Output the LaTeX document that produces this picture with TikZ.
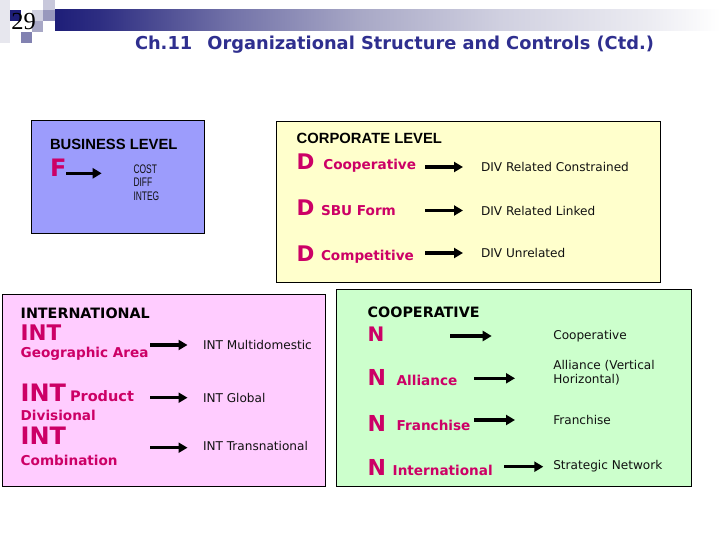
\documentclass[tikz,border=0pt]{standalone}
\usepackage{fontspec}
\setmainfont{DejaVu Sans}
\newfontfamily\myarial{Liberation Sans}
\newfontfamily\myarialnarrow[FakeStretch=0.68]{Liberation Sans}
\newfontfamily\mytimes{Liberation Serif}
\usetikzlibrary{arrows.meta}
\definecolor{mag}{HTML}{CC0066}
\definecolor{navyt}{HTML}{2F2F8F}
\definecolor{bizfill}{HTML}{9C9CFC}
\definecolor{corpfill}{HTML}{FFFFCC}
\definecolor{intfill}{HTML}{FFCCFF}
\definecolor{coopfill}{HTML}{CCFFCC}
\definecolor{txt}{HTML}{111111}
\definecolor{cA}{RGB}{30,30,120}
\definecolor{cB}{RGB}{46,46,130}
\definecolor{cC}{RGB}{114,114,168}
\definecolor{cD}{RGB}{168,168,198}
\definecolor{cE}{RGB}{208,208,224}
\definecolor{cF}{RGB}{236,236,242}
\newcommand\myhead{\myarial\bfseries\fontsize{14.8}{16}\selectfont}
\newcommand\myheadv{\bfseries\fontsize{14.3}{16}\selectfont}
\newcommand\mybig[1]{\bfseries\fontsize{#1}{#1}\selectfont}
\newcommand\myword{\bfseries\fontsize{13.6}{15}\selectfont}
\newcommand\myplain{\fontsize{12.1}{14.5}\selectfont}
\newcommand\mynarrow{\myarialnarrow\fontsize{12.4}{14}\selectfont}
\tikzset{
  boxshape/.style={draw=black, line width=0.9pt},
  lbl/.style={anchor=base west, inner sep=0pt, outer sep=0pt},
  headlbl/.style={lbl, text=black, font=\myhead},
  headvlbl/.style={lbl, text=black, font=\myheadv},
  wordlbl/.style={lbl, text=mag, font=\myword},
  plainlbl/.style={lbl, text=txt, font=\myplain},
  arr/.style={line width=3.2pt, -{Triangle[length=9pt,width=10pt]}},
}
\begin{document}
\begin{tikzpicture}[x=1pt,y=-1pt]
\useasboundingbox (0,0) rectangle (720,540);
\fill[white] (0,0) rectangle (720,540);
% header bar
\shade[left color=cA,right color=cB] (55,10) rectangle (100.5,31);
\shade[left color=cB,right color=cC] (100,10) rectangle (230.5,31);
\shade[left color=cC,right color=cD] (230,10) rectangle (360.5,31);
\shade[left color=cD,right color=cE] (360,10) rectangle (500.5,31);
\shade[left color=cE,right color=cF] (500,10) rectangle (650.5,31);
\shade[left color=cF,right color=white] (650,10) rectangle (720,31);
% corner squares
\fill[cF!80!cE] (0,0) rectangle (10,43);
\fill[cA] (10,10) rectangle (21,21);
\fill[cE] (32,10) rectangle (43,21);
\fill[cD!70!cC] (43,10) rectangle (55,21);
\fill[cE!80!cD] (43,0) rectangle (55,10);
\fill[cD] (32,21) rectangle (43,32);
\fill[cC!70!cD] (21,32) rectangle (32,43);
\node[lbl, font=\mytimes\fontsize{24.5}{25}\selectfont, text=black] (num) at (11.5,29.3) {29};
\node[lbl, font=\bfseries\fontsize{17.8}{19}\selectfont, text=navyt] (title) at (135,49.8) {Ch.11\hspace{0.85em}Organizational Structure and Controls (Ctd.)};

% business level
\draw[boxshape, fill=bizfill] (31,120) rectangle (204,233);
\node[headlbl] (bl) at (50,149.3) {BUSINESS LEVEL};
\node[lbl, text=mag, font=\mybig{24}] (f) at (50,176.7) {F};
\coordinate (fa1) at (66,173.3);
\coordinate (fa2) at (101.7,173.3);
\draw[arr] (fa1) -- (fa2);
\node[lbl, text=txt, font=\mynarrow] (cost) at (133.5,173.2) {COST};
\node[lbl, text=txt, font=\mynarrow] (diff) at (133.5,187) {DIFF};
\node[lbl, text=txt, font=\mynarrow] (integ) at (133.5,200.7) {INTEG};

% corporate level
\draw[boxshape, fill=corpfill] (276,121) rectangle (660,282);
\node[headlbl] (cl) at (296.7,143.3) {CORPORATE LEVEL};
\node[lbl, text=mag, font=\mybig{21.5}] (d1) at (296.7,170) {D};
\node[wordlbl] (coopw) at (323.3,170) {Cooperative};
\node[lbl, text=mag, font=\mybig{21.5}] (d2) at (296.7,215.7) {D};
\node[wordlbl] (sbu) at (321,215.7) {SBU Form};
\node[lbl, text=mag, font=\mybig{21.5}] (d3) at (296.7,261.7) {D};
\node[wordlbl] (compw) at (321,260.5) {Competitive};
\coordinate (ca1) at (425,167); \coordinate (ca2) at (463,167);
\coordinate (cb1) at (425,210.5); \coordinate (cb2) at (463,210.5);
\coordinate (cc1) at (425,253); \coordinate (cc2) at (463,253);
\draw[arr] (ca1) -- (ca2);
\draw[arr] (cb1) -- (cb2);
\draw[arr] (cc1) -- (cc2);
\node[plainlbl] (divrc) at (481,171.5) {DIV Related Constrained};
\node[plainlbl] (divrl) at (481,215.5) {DIV Related Linked};
\node[plainlbl] (divu) at (481,258) {DIV Unrelated};

% international
\draw[boxshape, fill=intfill] (2,294.3) rectangle (325,486);
\node[headvlbl] (il) at (20.7,318.3) {INTERNATIONAL};
\node[lbl, text=mag, font=\mybig{21.5}] (int1) at (20.7,340) {INT};
\node[wordlbl] (geo) at (20.7,357.7) {Geographic Area};
\node[lbl, text=mag, font=\mybig{24}] (int2) at (20.7,401.7) {INT};
\node[lbl, text=mag, font=\bfseries\fontsize{14.5}{16}\selectfont] (prod) at (70,401) {Product};
\node[wordlbl] (divis) at (20.7,420) {Divisional};
\node[lbl, text=mag, font=\mybig{24}] (int3) at (20.7,444.3) {INT};
\node[wordlbl] (comb) at (20.7,465) {Combination};
\coordinate (ia1) at (150,345); \coordinate (ia2) at (187.5,345);
\coordinate (ib1) at (150,397.7); \coordinate (ib2) at (187.5,397.7);
\coordinate (ic1) at (150,447.7); \coordinate (ic2) at (187.5,447.7);
\draw[arr] (ia1) -- (ia2);
\draw[arr] (ib1) -- (ib2);
\draw[arr] (ic1) -- (ic2);
\node[plainlbl] (multi) at (203,349.5) {INT Multidomestic};
\node[plainlbl] (glob) at (203,402) {INT Global};
\node[plainlbl] (trans) at (203,450.5) {INT Transnational};

% cooperative
\draw[boxshape, fill=coopfill] (336,289) rectangle (691.7,486.7);
\node[headvlbl] (col) at (367.7,317.3) {COOPERATIVE};
\node[lbl, text=mag, font=\mybig{20}] (n1) at (367.7,341) {N};
\node[lbl, text=mag, font=\mybig{22}] (n2) at (367.7,385) {N};
\node[wordlbl] (all) at (396.7,385) {Alliance};
\node[lbl, text=mag, font=\mybig{22}] (n3) at (367.7,431) {N};
\node[wordlbl] (fran) at (396.7,430) {Franchise};
\node[lbl, text=mag, font=\mybig{22}] (n4) at (367.7,475) {N};
\node[wordlbl] (intl) at (392.7,475.7) {International};
\coordinate (na1) at (450,336); \coordinate (na2) at (491.7,336);
\coordinate (nb1) at (474,378.3); \coordinate (nb2) at (515,378.3);
\coordinate (nc1) at (474,420); \coordinate (nc2) at (515,420);
\coordinate (nd1) at (504,466.7); \coordinate (nd2) at (543.3,466.7);
\draw[arr] (na1) -- (na2);
\draw[arr] (nb1) -- (nb2);
\draw[arr] (nc1) -- (nc2);
\draw[arr] (nd1) -- (nd2);
\node[plainlbl] (coopr) at (553.3,339.3) {Cooperative};
\node[plainlbl, align=left] (allr) at (553.3,383.5) {Alliance (Vertical\\Horizontal)};
\node[plainlbl] (franr) at (553.3,424.7) {Franchise};
\node[plainlbl] (strat) at (553.3,469.3) {Strategic Network};
\end{tikzpicture}
\end{document}
